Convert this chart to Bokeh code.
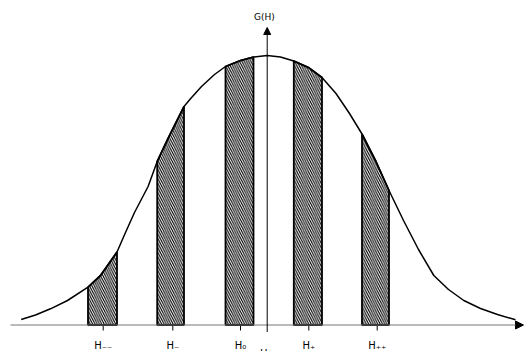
from bokeh.plotting import figure
from bokeh.models import Range1d, Arrow, NormalHead
from bokeh.core.properties import value
from bokeh.embed import file_html
from bokeh.resources import INLINE

# Curve G(H) (H relative to the G axis)
curve_h = [-246.0, -231.7, -216.7, -199.7, -179.2, -166.7, -150.2, -141.7, -132.7, -119.1,
           -110.0, -98.7, -83.2, -76.7, -65.7, -52.7, -41.7, -26.7, -13.7, 0.0,
           13.3, 26.6, 41.3, 54.8, 68.8, 82.3, 94.8, 108.8, 121.8, 136.3,
           151.3, 166.6, 181.3, 196.6, 213.3, 230.3, 248.3]
curve_g = [5.5, 10.0, 16.2, 24.5, 37.8, 49.5, 73.0, 92.5, 112.5, 138.5,
           163.5, 187.5, 218.5, 226.2, 238.5, 250.5, 258.5, 264.5, 268.0, 269.5,
           268.0, 264.0, 257.5, 247.5, 231.5, 211.5, 191.0, 163.5, 134.5, 104.5,
           75.5, 49.5, 35.5, 24.5, 16.5, 10.5, 5.2]

# Shaded bands (left / right edges)
band_left = [-179.2, -110.0, -41.7, 26.6, 94.8]
band_right = [-150.2, -83.2, -13.7, 54.8, 121.8]

# Tick positions and labels
tick_pos = [-164.0, -94.4, -26.7, 41.6, 110.0]
tick_labels = ["H\u208b\u208b", "H\u208b", "H\u2080", "H\u208a", "H\u208a\u208a"]
y_label = "G(H)"
center_label = "H"

p = figure(width=526, height=351, output_backend="svg", toolbar_location=None,
           x_range=Range1d(-266.7, 259.3), y_range=Range1d(-26.5, 324.5),
           min_border=0, background_fill_color="white", border_fill_color="white")
p.axis.visible = False
p.grid.visible = False
p.outline_line_color = None

# hatched bands under the curve
xs, ys = [], []
for l, r in zip(band_left, band_right):
    px = [h for h in curve_h if l - 1e-6 <= h <= r + 1e-6]
    py = [g for h, g in zip(curve_h, curve_g) if l - 1e-6 <= h <= r + 1e-6]
    xs.append([l] + px + [r])
    ys.append([0] + py + [0])
p.patches(xs, ys, fill_alpha=0, hatch_pattern="left_diagonal_line", hatch_scale=4.6,
          hatch_weight=1.1, hatch_color="black", line_color="black", line_width=1.8)

# curve
p.line(curve_h, curve_g, line_color="black", line_width=1.5)

# x axis with arrow
p.add_layout(Arrow(end=NormalHead(size=8, fill_color="black", line_color="black"),
                   x_start=-256.7, y_start=0, x_end=256.3, y_end=0,
                   line_color="#777777", line_width=1.2))
# G axis with arrow
p.add_layout(Arrow(end=NormalHead(size=7, fill_color="black", line_color="black"),
                   x_start=0, y_start=-7, x_end=0, y_end=297.5,
                   line_color="black", line_width=1))

# ticks
p.segment(x0=tick_pos, y0=[0] * len(tick_pos), x1=tick_pos, y1=[-5.5] * len(tick_pos),
          line_color="black", line_width=1)

p.text(x=tick_pos, y=[-20.5] * len(tick_pos), text=tick_labels,
       text_font=value("DejaVu Sans"), text_font_size="10px",
       text_align="center", text_baseline="alphabetic", text_color="black")
p.text(x=[-2.7], y=[308.5], text=[y_label], text_font=value("DejaVu Sans"),
       text_font_size="9px", text_align="center", text_baseline="middle",
       text_color="black")
p.text(x=[-3.4], y=[-23.0], text=[center_label], text_font=value("DejaVu Sans"),
       text_font_size="10px", text_align="center", text_baseline="top",
       text_color="black")

open("out.html", "w").write(file_html(p, INLINE))
